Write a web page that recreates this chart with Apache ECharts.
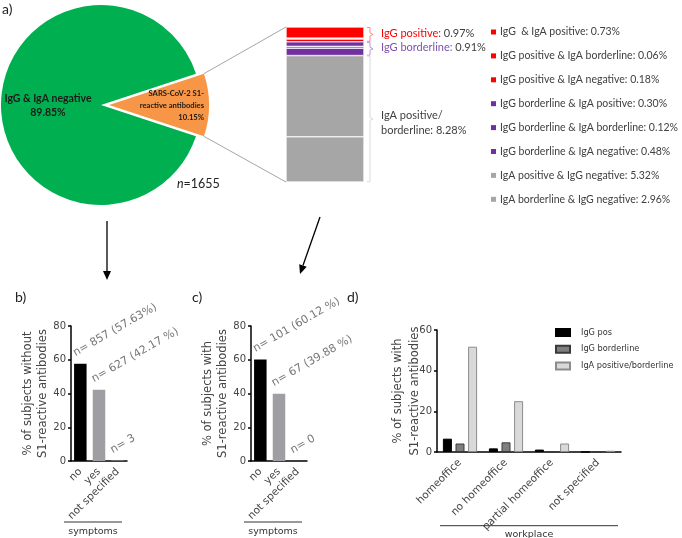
<!DOCTYPE html>
<html><head><meta charset="utf-8">
<script src="https://cdn.jsdelivr.net/npm/echarts/dist/echarts.min.js"></script>
<style>html,body{margin:0;padding:0;background:#fff}#c{width:682px;height:538px}</style>
</head><body><div id="c"></div>
<script>
// ---------- data ----------
const pieNames = ['SARS-CoV-2 S1-\nreactive antibodies', 'IgG & IgA negative'];
const pieValues = [10.15, 89.85];
const totalN = 1655;

const stackNames = ['IgG  & IgA positive', 'IgG positive & IgA borderline', 'IgG positive & IgA negative',
  'IgG borderline & IgA positive', 'IgG borderline & IgA borderline', 'IgG borderline & IgA negative',
  'IgA positive & IgG negative', 'IgA borderline & IgG negative'];
const stackValues = [0.73, 0.06, 0.18, 0.30, 0.12, 0.48, 5.32, 2.96];
const stackGroup = [0, 0, 0, 1, 1, 1, 2, 2];

const groupNames = ['IgG positive', 'IgG borderline', 'IgA positive/\nborderline'];
const groupValues = [0.97, 0.91, 8.28];

const symptomCats = ['no', 'yes', 'not specified'];
const withoutPct = [57.63, 42.17, 0.20];
const withoutLabels = ['n= 857 (57.63%)', 'n= 627 (42.17 %)', 'n= 3'];
const withPct = [60.12, 39.88, 0];
const withLabels = ['n= 101 (60.12 %)', 'n= 67 (39.88 %)', 'n= 0'];
const symptomTicks = [0, 20, 40, 60, 80];

const workCats = ['homeoffice', 'no homeoffice', 'partial homeoffice', 'not specified'];
const workSeriesNames = ['IgG pos', 'IgG borderline', 'IgA positive/borderline'];
const igGPos = [6.55, 1.79, 1.19, 0];
const igGBorder = [4.17, 4.76, 0, 0];
const igAPosBorder = [51.79, 25.0, 4.17, 0.6];
const workTicks = [0, 20, 40, 60];

// ---------- styles ----------
const groupColors = ['#FF0000', '#7030A0', '#A6A6A6'];
const groupLabelColors = ['#FF0000', '#7F4FB0', '#404040'];
const bracketColors = ['#FF8A8A', '#B895D6', '#D9D9D9'];
const symColors = ['#000000', '#9E9EA3', '#BDBDBD'];
const GP = 'DejaVu Sans';
const TXT = '#444';

const chart = echarts.init(document.getElementById('c'), null, {renderer: 'canvas'});

function symptomAxes(gi) {
  return {
    x: {gridIndex: gi, type: 'category', data: symptomCats,
      axisLine: {lineStyle: {color: '#000', width: 1.5}},
      axisTick: {alignWithLabel: true, length: 4, lineStyle: {color: '#000', width: 1.5}},
      axisLabel: {rotate: 45, interval: 0, margin: 9, color: TXT, fontFamily: GP, fontSize: 10.5}},
    y: {gridIndex: gi, type: 'value', min: symptomTicks[0], max: symptomTicks[symptomTicks.length - 1],
      interval: symptomTicks[1] - symptomTicks[0], splitLine: {show: false},
      axisLine: {show: true, lineStyle: {color: '#000', width: 1.5}},
      axisTick: {show: true, length: 3, lineStyle: {color: '#000', width: 1.5}},
      axisLabel: {margin: 5, color: TXT, fontFamily: GP, fontSize: 10},
      nameLocation: 'middle', nameRotate: 90, nameGap: 21, nameMoveOverlap: false,
      nameTextStyle: {fontFamily: GP, fontSize: 11.5, color: TXT, lineHeight: 14.5}}
  };
}
const axB = symptomAxes(1); axB.y.name = '% of subjects without\nS1-reactive antibodies';
const axC = symptomAxes(2); axC.y.name = '% of subjects with\nS1-reactive antibodies';

function symptomSeries(gi, vals, labels) {
  return {
    type: 'bar', xAxisIndex: gi, yAxisIndex: gi, barWidth: 12.5, silent: true,
    data: vals.map((v, i) => ({value: v, itemStyle: {color: symColors[i]}})),
    label: {show: true, position: 'top', rotate: 30, align: 'left', verticalAlign: 'bottom',
      offset: [-3, -2], color: '#777', fontFamily: GP, fontSize: 11,
      formatter: p => labels[p.dataIndex]}
  };
}

const stackTotal = stackValues.reduce((a, b) => a + b, 0);
const stackSeries = [];
for (let i = stackValues.length - 1; i >= 0; i--) {
  stackSeries.push({
    type: 'bar', name: stackNames[i], stack: 's', xAxisIndex: 0, yAxisIndex: 0,
    barWidth: '100%', silent: true, data: [stackValues[i]],
    itemStyle: {color: groupColors[stackGroup[i]], borderColor: '#fff', borderWidth: 0.6}
  });
}

const workStyles = [
  {color: '#000000', borderColor: '#000000', borderWidth: 1},
  {color: '#7F7F7F', borderColor: '#3A3A3A', borderWidth: 1},
  {color: '#D9D9D9', borderColor: '#8C8C8C', borderWidth: 1}
];
const workData = [igGPos, igGBorder, igAPosBorder];

const option = {
  animation: false,
  backgroundColor: '#fff',
  grid: [
    {left: 286, top: 27, width: 78, height: 155},
    {left: 71, top: 326, width: 56, height: 135},
    {left: 251, top: 326, width: 56, height: 135},
    {left: 437, top: 330, width: 184, height: 122}
  ],
  xAxis: [
    {gridIndex: 0, type: 'category', data: ['all'], show: false},
    axB.x, axC.x,
    {gridIndex: 3, type: 'category', data: workCats,
      axisLine: {lineStyle: {color: '#000', width: 1.5}},
      axisTick: {alignWithLabel: true, length: 4, lineStyle: {color: '#000', width: 1.5}},
      axisLabel: {rotate: 45, interval: 0, margin: 9, color: TXT, fontFamily: GP, fontSize: 10.5}}
  ],
  yAxis: [
    {gridIndex: 0, type: 'value', min: 0, max: stackTotal, show: false},
    axB.y, axC.y,
    {gridIndex: 3, type: 'value', min: workTicks[0], max: workTicks[workTicks.length - 1],
      interval: workTicks[1] - workTicks[0], splitLine: {show: false},
      axisLine: {show: true, lineStyle: {color: '#000', width: 1.5}},
      axisTick: {show: true, length: 3, lineStyle: {color: '#000', width: 1.5}},
      axisLabel: {margin: 5, color: TXT, fontFamily: GP, fontSize: 10},
      name: '% of subjects with\nS1-reactive antibodies',
      nameLocation: 'middle', nameRotate: 90, nameGap: 14, nameMoveOverlap: false,
      nameTextStyle: {fontFamily: GP, fontSize: 11.5, color: TXT, lineHeight: 16.5}}
  ],
  legend: [
    {orient: 'vertical', left: 491, top: 26, padding: 0, itemWidth: 5, itemHeight: 5, itemGap: 11.9,
      icon: 'rect', selectedMode: false, data: stackNames,
      itemStyle: {borderWidth: 0},
      formatter: n => n + ': ' + stackValues[stackNames.indexOf(n)].toFixed(2) + '%',
      textStyle: {fontFamily: 'Lato', fontSize: 10.5, color: '#404040', lineHeight: 12, padding: [0, 0, 0, -1]}},
    {orient: 'vertical', left: 555, top: 327.5, padding: 0, itemWidth: 14, itemHeight: 7, itemGap: 6.7,
      icon: 'rect', selectedMode: false, data: workSeriesNames,
      textStyle: {fontFamily: GP, fontSize: 8.2, color: '#333', lineHeight: 10, padding: [0, 0, 0, 6]}}
  ],
  series: [
    {type: 'pie', center: [101, 105], radius: 100, startAngle: pieValues[0] * 3.6 / 2, clockwise: true,
      selectedMode: 'single', selectedOffset: 8, label: {show: false}, labelLine: {show: false},
      emphasis: {disabled: true}, silent: true,
      data: [
        {name: pieNames[0], value: pieValues[0], selected: true, itemStyle: {color: '#F79646'}},
        {name: pieNames[1], value: pieValues[1], itemStyle: {color: '#00B050'}}
      ]},
    ...stackSeries,
    symptomSeries(1, withoutPct, withoutLabels),
    symptomSeries(2, withPct, withLabels),
    ...workSeriesNames.map((n, k) => ({
      type: 'bar', name: n, xAxisIndex: 3, yAxisIndex: 3, barWidth: 9, barGap: '40%', silent: true,
      data: workData[k], itemStyle: workStyles[k]
    }))
  ]
};
chart.setOption(option);

// ---------- annotations derived from chart geometry ----------
const py = v => chart.convertToPixel({gridIndex: 0}, [0, v])[1];
const barLeft = 286;
const g = [];
// pie -> bar connectors
const half = pieValues[0] * 3.6 / 2 * Math.PI / 180;
const cx = 101 + 8, cy = 105, R = 100;
const pTop = [cx + R * Math.cos(half), cy - R * Math.sin(half)];
const pBot = [cx + R * Math.cos(half), cy + R * Math.sin(half)];
g.push({type: 'line', shape: {x1: pTop[0], y1: pTop[1], x2: barLeft, y2: py(stackTotal)}, style: {stroke: '#A6A6A6', lineWidth: 1}});
g.push({type: 'line', shape: {x1: pBot[0], y1: pBot[1], x2: barLeft, y2: py(0)}, style: {stroke: '#A6A6A6', lineWidth: 1}});

// brackets + group labels
let cum = stackTotal;
groupValues.forEach((gv, k) => {
  const top = py(cum) + 0.5, bot = py(cum - gv) - 0.5, mid = (top + bot) / 2;
  cum -= gv;
  const x0 = 367, x1 = 370, x2 = 373;
  g.push({type: 'polyline', shape: {points: [[x0, top], [x1, top], [x1, mid - 1.5], [x2, mid], [x1, mid + 1.5], [x1, bot], [x0, bot]]},
    style: {stroke: bracketColors[k], lineWidth: 1, fill: null}});
  let txt;
  if (k < 2) txt = '{c|' + groupNames[k] + ':} {v|' + gv.toFixed(2) + '%}';
  else txt = groupNames[k] + ': ' + gv.toFixed(2) + '%';
  g.push({type: 'text', x: 381, y: k < 2 ? mid - 1 : mid + 4,
    style: {text: txt, fontFamily: 'Lato', fontSize: 11, fill: '#404040', lineHeight: 14.5,
      verticalAlign: 'middle', align: 'left',
      rich: {c: {fill: groupLabelColors[k], fontFamily: 'Lato', fontSize: 11}, v: {fill: '#404040', fontFamily: 'Lato', fontSize: 11}}}});
});

// pie labels
g.push({type: 'text', x: 48, y: 106, style: {text: pieNames[1] + '\n' + pieValues[1].toFixed(2) + '%',
  fontFamily: 'Lato', fontWeight: 'bold', fontSize: 10.5, fill: '#1a1a1a', lineHeight: 14, align: 'center', verticalAlign: 'middle'}});
g.push({type: 'text', x: 204, y: 106, style: {text: pieNames[0] + '\n' + pieValues[0].toFixed(2) + '%',
  fontFamily: 'Lato', fontWeight: 'bold', fontSize: 7.6, fill: '#1a1a1a', lineHeight: 12, align: 'right', verticalAlign: 'middle'}});
g.push({type: 'text', x: 177, y: 184, style: {text: '{i|n}=' + totalN,
  fontFamily: 'Lato', fontSize: 12.5, fill: '#222', verticalAlign: 'middle',
  rich: {i: {fontStyle: 'italic', fontFamily: 'Lato', fontSize: 12.5, fill: '#222'}}}});

// panel letters
[['a)', 2, 9], ['b)', 15, 297], ['c)', 192, 297], ['d)', 347, 297]].forEach(([t, x, y]) => {
  g.push({type: 'text', x: x, y: y, style: {text: t, fontFamily: 'Lato', fontSize: 14, fill: '#222', verticalAlign: 'middle'}});
});

// arrows
function arrow(x1, y1, x2, y2) {
  const dx = x2 - x1, dy = y2 - y1, L = Math.hypot(dx, dy), ux = dx / L, uy = dy / L;
  const bx = x2 - ux * 9, by = y2 - uy * 9;
  g.push({type: 'line', shape: {x1, y1, x2: bx, y2: by}, style: {stroke: '#000', lineWidth: 1.3}});
  g.push({type: 'polygon', shape: {points: [[x2, y2], [bx - uy * 4, by + ux * 4], [bx + uy * 4, by - ux * 4]]}, style: {fill: '#000'}});
}
arrow(107, 221, 107, 280);
arrow(320, 217, 300, 274);

// x-axis group names
[['symptoms', 64, 122, 522, 532], ['symptoms', 244, 302, 522, 532], ['workplace', 440, 618, 525.7, 534.5]].forEach(([t, a, b, ly, ty]) => {
  g.push({type: 'line', shape: {x1: a, y1: ly, x2: b, y2: ly}, style: {stroke: '#333', lineWidth: 1}});
  g.push({type: 'text', x: (a + b) / 2, y: ty, style: {text: t, fontFamily: GP, fontSize: 9.5, fill: '#333', align: 'center', verticalAlign: 'middle'}});
});

g.forEach(e => { e.z = 100; e.silent = true; });
chart.setOption({graphic: g});
</script></body></html>
